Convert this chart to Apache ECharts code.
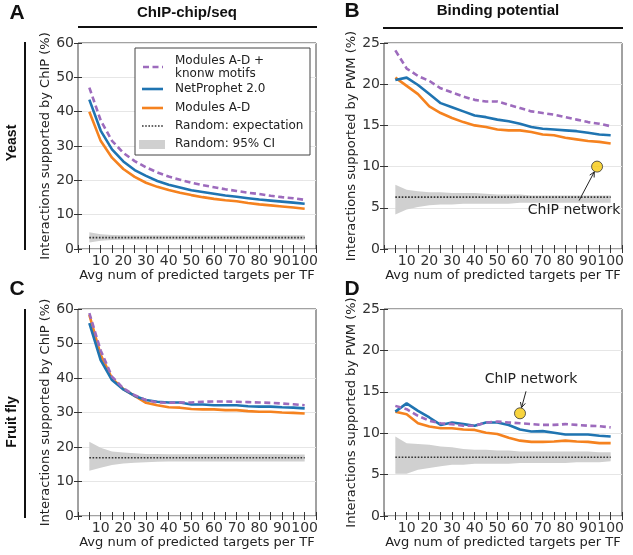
<!DOCTYPE html>
<html><head><meta charset="utf-8">
<script src="https://cdn.jsdelivr.net/npm/echarts@6/dist/echarts.min.js"></script>
<style>html,body{margin:0;padding:0;background:#fff}#c{width:633px;height:555px}</style>
</head><body><div id="c"></div>
<script>
// ---------- data ----------
const xs = [5,10,15,20,25,30,35,40,45,50,55,60,65,70,75,80,85,90,95,100];
const xTickLabels = [10,20,30,40,50,60,70,80,90,100];

// Panel A: Yeast, ChIP-chip/seq
const A_motifs     = [47,37.5,31.5,28,25.6,23.8,22.3,21.1,20.2,19.3,18.6,18,17.4,16.9,16.4,16,15.5,15.1,14.8,14.3];
const A_netprophet = [43.5,34.5,29,25.5,23,21.3,19.8,18.7,17.9,17.1,16.6,16.1,15.6,15.2,14.8,14.4,14.1,13.8,13.5,13.2];
const A_modules    = [40,31.5,26.6,23.3,21,19.3,18.1,17.2,16.4,15.7,15.1,14.6,14.2,13.9,13.4,13,12.7,12.4,12.1,11.7];
const A_random     = [3.3,3.3,3.3,3.3,3.3,3.3,3.3,3.3,3.3,3.3,3.3,3.3,3.3,3.3,3.3,3.3,3.3,3.3,3.3,3.3];
const A_ciLow      = [1.9,2.4,2.6,2.7,2.7,2.7,2.7,2.7,2.7,2.7,2.7,2.7,2.7,2.7,2.7,2.7,2.7,2.7,2.7,2.7];
const A_ciHigh     = [4.9,4.3,4.1,4.0,4.0,4.0,4.0,4.0,4.0,4.0,4.0,4.0,4.0,4.0,4.0,4.0,4.0,4.0,4.0,4.0];

// Panel B: Yeast, Binding potential
const B_motifs     = [24.1,21.9,21,20.4,19.5,19,18.5,18.1,17.9,17.9,17.5,17.1,16.7,16.5,16.3,16,15.7,15.4,15.2,14.9];
const B_netprophet = [20.5,20.8,19.9,18.8,17.7,17.2,16.7,16.2,16,15.7,15.5,15.2,14.8,14.6,14.5,14.4,14.3,14.1,13.9,13.8];
const B_modules    = [20.8,19.8,18.8,17.3,16.5,15.9,15.4,15,14.8,14.5,14.4,14.4,14.2,13.9,13.8,13.5,13.3,13.1,13,12.8];
const B_random     = [6.3,6.3,6.3,6.3,6.3,6.3,6.3,6.3,6.3,6.3,6.3,6.3,6.3,6.3,6.3,6.3,6.3,6.3,6.3,6.3];
const B_ciLow      = [4.2,4.8,5.1,5.3,5.4,5.4,5.5,5.5,5.5,5.5,5.5,5.6,5.6,5.6,5.6,5.6,5.6,5.6,5.6,5.6];
const B_ciHigh     = [7.8,7.2,7.0,6.9,6.9,6.8,6.8,6.8,6.7,6.6,6.6,6.6,6.5,6.5,6.5,6.5,6.5,6.5,6.5,6.5];
const B_chip       = [94, 10];

// Panel C: Fruit fly, ChIP-chip/seq
const C_motifs     = [58.8,48,40.4,37,35,33.6,32.9,32.8,32.9,32.9,33.1,33.2,33.2,33.1,33.0,32.9,32.8,32.6,32.4,32.1];
const C_netprophet = [55.9,45.2,39.4,36.7,34.8,33.6,33.1,32.9,32.9,32.3,32.3,32.1,32.1,32.1,31.8,31.7,31.7,31.5,31.4,31.2];
const C_modules    = [58.3,46.7,39.9,36.8,34.8,32.8,32.1,31.5,31.4,31.0,30.9,30.9,30.7,30.7,30.4,30.2,30.2,30.0,29.9,29.7];
const C_random     = [16.9,16.9,16.9,16.9,16.9,16.9,16.9,16.9,16.9,16.9,16.9,16.9,16.9,16.9,16.9,16.9,16.9,16.9,16.9,16.9];
const C_ciLow      = [13.1,14.0,14.8,15.2,15.4,15.6,15.7,15.8,15.8,15.8,15.8,15.8,15.8,15.8,15.8,15.8,15.8,15.8,15.8,15.8];
const C_ciHigh     = [21.5,19.8,18.7,18.4,18.2,18.0,18.0,17.9,17.9,17.9,17.9,17.9,17.9,17.9,17.9,17.9,17.9,17.9,17.8,17.8];

// Panel D: Fruit fly, Binding potential
const D_motifs     = [13.3,12.9,12.1,11.5,11.2,11.1,10.9,10.9,11.3,11.4,11.3,11.2,11.1,11.0,11.0,11.1,11.0,10.9,10.85,10.7];
const D_netprophet = [12.6,13.6,12.7,11.9,11.0,11.3,11.1,10.9,11.3,11.3,11.0,10.45,10.2,10.25,10.05,9.85,9.85,9.85,9.7,9.6];
const D_modules    = [12.6,12.3,11.2,10.8,10.6,10.6,10.45,10.4,10.05,9.9,9.45,9.1,8.95,8.95,9.0,9.1,9.0,8.95,8.8,8.8];
const D_random     = [7.1,7.1,7.1,7.1,7.1,7.1,7.1,7.1,7.1,7.1,7.1,7.1,7.1,7.1,7.1,7.1,7.1,7.1,7.1,7.1];
const D_ciLow      = [5.1,5.1,5.6,5.8,6.0,6.2,6.2,6.3,6.3,6.3,6.3,6.4,6.4,6.4,6.4,6.4,6.5,6.5,6.5,6.6];
const D_ciHigh     = [9.6,8.8,8.7,8.6,8.4,8.3,8.1,8.0,8.0,7.9,7.9,7.8,7.8,7.8,7.8,7.8,7.8,7.8,7.7,7.7];
const D_chip       = [60, 12.4];

const seriesNames = ['Modules A-D +\nknonw motifs','NetProphet 2.0','Modules A-D','Random: expectation','Random: 95% CI'];
const columnTitles = ['ChIP-chip/seq','Binding potential'];
const rowTitles = ['Yeast','Fruit fly'];
const panelLetters = ['A','B','C','D'];
const xName = 'Avg num of predicted targets per TF';
const yNames = ['Interactions supported by ChIP (%)','Interactions supported by PWM (%)'];

// ---------- styling ----------
const COL_PURPLE = '#9d6bbd', COL_BLUE = '#1f74b1', COL_ORANGE = '#f5821f', COL_CI = '#d0d0d0', COL_DOT = '#333';
const FONT = 'DejaVu Sans';
const grids = [
  {left:78, top:43, width:238, height:206},
  {left:384, top:43, width:238, height:206},
  {left:78, top:309, width:238, height:207},
  {left:384, top:309, width:238, height:207}
];
const yMax = [60,25,60,25], yInt = [10,5,10,5];

const chart = echarts.init(document.getElementById('c'), null, {renderer:'canvas'});
const xAxes = [], yAxes = [], series = [];
const pair = arr => xs.map((x,k)=>[x,arr[k]]);

function addPanel(i, motifs, np, mods, rand, lo, hi, chip) {
  const tickBase = {show:true, inside:true, length:4, lineStyle:{color:'#333', width:1}};
  xAxes.push({gridIndex:i, type:'value', min:0, max:105, interval:5, position:'bottom',
    axisLine:{show:false}, axisTick:tickBase, splitLine:{show:false},
    axisLabel:{fontFamily:FONT, fontSize:14, color:'#333', margin:5,
      formatter: v => xTickLabels.indexOf(v) >= 0 ? String(v) : ''},
    name:xName, nameLocation:'middle', nameGap:20,
    nameTextStyle:{fontFamily:FONT, fontSize:13, color:'#222'}});
  xAxes.push({gridIndex:i, type:'value', min:0, max:105, interval:5, position:'top',
    axisLine:{show:false}, axisTick:tickBase, splitLine:{show:false}, axisLabel:{show:false}});
  yAxes.push({gridIndex:i, type:'value', min:0, max:yMax[i], interval:yInt[i], position:'left',
    axisLine:{show:false}, axisTick:tickBase,
    splitLine:{show:true, lineStyle:{color:'#e6e6e6', width:1}},
    axisLabel:{fontFamily:FONT, fontSize:14, color:'#333', margin:4},
    name:yNames[i%2], nameLocation:'middle', nameGap:22,
    nameTextStyle:{fontFamily:FONT, fontSize:13, color:'#222'}});
  yAxes.push({gridIndex:i, type:'value', min:0, max:yMax[i], interval:yInt[i], position:'right',
    axisLine:{show:false}, axisTick:tickBase, splitLine:{show:false}, axisLabel:{show:false}});
  const base = {xAxisIndex:2*i, yAxisIndex:2*i, silent:true, animation:false};
  // 95% CI band: polygon through the lower and upper bounds, via the axes' scales
  series.push(Object.assign({}, base, {type:'custom', name:seriesNames[4],
    data: xs.map((x,k)=>[x, lo[k], hi[k]]), z:1,
    renderItem: function (params, api) {
      if (params.dataIndex !== 0) return null;
      const upper = xs.map((x,k)=>api.coord([x, hi[k]]));
      const lower = xs.map((x,k)=>api.coord([x, lo[k]])).reverse();
      return {type:'polygon', shape:{points:upper.concat(lower)}, style:{fill:COL_CI}};
    }}));
  const lbase = Object.assign({type:'line', symbol:'none'}, base);
  series.push(Object.assign({}, lbase, {name:seriesNames[3], data:pair(rand),
    lineStyle:{color:COL_DOT, width:1.6, type:[1.6,1.6]}, z:2}));
  series.push(Object.assign({}, lbase, {name:seriesNames[2], data:pair(mods),
    lineStyle:{color:COL_ORANGE, width:2.6}, z:3}));
  series.push(Object.assign({}, lbase, {name:seriesNames[1], data:pair(np),
    lineStyle:{color:COL_BLUE, width:2.6}, z:4}));
  series.push(Object.assign({}, lbase, {name:seriesNames[0], data:pair(motifs),
    lineStyle:{color:COL_PURPLE, width:2.6, type:[6,3.5]}, z:5}));
  if (chip) {
    series.push(Object.assign({}, base, {type:'scatter', data:[chip], symbolSize:11,
      itemStyle:{color:'#f6c90e', borderColor:'#333', borderWidth:1}, z:6}));
  }
}
addPanel(0, A_motifs, A_netprophet, A_modules, A_random, A_ciLow, A_ciHigh, null);
addPanel(1, B_motifs, B_netprophet, B_modules, B_random, B_ciLow, B_ciHigh, B_chip);
addPanel(2, C_motifs, C_netprophet, C_modules, C_random, C_ciLow, C_ciHigh, null);
addPanel(3, D_motifs, D_netprophet, D_modules, D_random, D_ciLow, D_ciHigh, D_chip);

chart.setOption({
  animation:false,
  backgroundColor:'#fff',
  grid: grids.map(g => Object.assign({show:true, borderColor:'#444', borderWidth:1, backgroundColor:'transparent'}, g)),
  xAxis:xAxes, yAxis:yAxes, series:series
});

// ---------- decorations (titles, legend, annotations) ----------
const gfx = [];
const bold = (txt, x, y, size, extra) => Object.assign({type:'text', x:x, y:y,
  style:{text:txt, font:'bold '+size+'px "Liberation Sans", Arial, sans-serif', fill:'#111', align:'center', verticalAlign:'middle'}}, extra||{});
// panel letters
gfx.push(bold(panelLetters[0], 17, 13, 21));
gfx.push(bold(panelLetters[1], 352, 11, 21));
gfx.push(bold(panelLetters[2], 17, 289, 21));
gfx.push(bold(panelLetters[3], 352, 289, 21));
// column titles + rules
gfx.push(bold(columnTitles[0], 187, 13, 15));
gfx.push(bold(columnTitles[1], 498, 11, 15));
gfx.push({type:'line', shape:{x1:78, y1:27, x2:317, y2:27}, style:{stroke:'#111', lineWidth:2}});
gfx.push({type:'line', shape:{x1:383, y1:28, x2:623, y2:28}, style:{stroke:'#111', lineWidth:2}});
// row titles + rules
gfx.push(bold(rowTitles[0], 12, 143, 14, {rotation:Math.PI/2}));
gfx.push(bold(rowTitles[1], 12, 422, 14, {rotation:Math.PI/2}));
gfx.push({type:'line', shape:{x1:25, y1:42, x2:25, y2:250}, style:{stroke:'#111', lineWidth:2}});
gfx.push({type:'line', shape:{x1:25, y1:309, x2:25, y2:518}, style:{stroke:'#111', lineWidth:2}});

// legend (panel A)
const lx = 135, ly = 48;
const legendFont = '12px "DejaVu Sans", sans-serif';
const legChildren = [
  {type:'rect', shape:{x:0, y:0, width:175, height:107}, style:{fill:'#fff', stroke:'#444', lineWidth:1}},
  {type:'line', shape:{x1:8, y1:19, x2:28, y2:19}, style:{stroke:COL_PURPLE, lineWidth:2.6, lineDash:[6,3.5]}},
  {type:'text', x:40, y:19, style:{text:seriesNames[0], font:legendFont, fill:'#222', verticalAlign:'middle', lineHeight:13}},
  {type:'line', shape:{x1:7, y1:41, x2:28, y2:41}, style:{stroke:COL_BLUE, lineWidth:2.6}},
  {type:'text', x:40, y:41, style:{text:seriesNames[1], font:legendFont, fill:'#222', verticalAlign:'middle'}},
  {type:'line', shape:{x1:7, y1:60, x2:28, y2:60}, style:{stroke:COL_ORANGE, lineWidth:2.6}},
  {type:'text', x:40, y:60, style:{text:seriesNames[2], font:legendFont, fill:'#222', verticalAlign:'middle'}},
  {type:'line', shape:{x1:7, y1:78, x2:28, y2:78}, style:{stroke:COL_DOT, lineWidth:1.6, lineDash:[1.6,1.6]}},
  {type:'text', x:40, y:78, style:{text:seriesNames[3], font:legendFont, fill:'#222', verticalAlign:'middle'}},
  {type:'rect', shape:{x:4, y:92, width:26, height:9}, style:{fill:COL_CI}},
  {type:'text', x:40, y:96, style:{text:seriesNames[4], font:legendFont, fill:'#222', verticalAlign:'middle'}}
];
legChildren.forEach(c => { c.z = 100; });
gfx.push({type:'group', x:lx, y:ly, children:legChildren, z:100});

// annotations: "ChIP network" with arrows to the points
function annotate(gridIdx, pt, tdx, tdy, tailDx, tailDy) {
  const p = chart.convertToPixel({xAxisIndex:2*gridIdx, yAxisIndex:2*gridIdx}, pt);
  gfx.push({type:'text', x:p[0]+tdx, y:p[1]+tdy, z:50,
    style:{text:'ChIP network', font:'14px "DejaVu Sans", sans-serif', fill:'#222', align:'center', verticalAlign:'middle'}});
  const tx = p[0]+tailDx, ty = p[1]+tailDy;
  const dx = p[0]-tx, dy = p[1]-ty, L = Math.hypot(dx,dy);
  const ux = dx/L, uy = dy/L;
  const hx = p[0]-ux*6, hy = p[1]-uy*6; // stop at the circle edge
  const ah = 5, aw = 2.5;
  gfx.push({type:'line', z:50, shape:{x1:tx, y1:ty, x2:hx, y2:hy}, style:{stroke:'#222', lineWidth:1}});
  gfx.push({type:'polyline', z:50, shape:{points:[[hx-ux*ah-uy*aw, hy-uy*ah+ux*aw],[hx,hy],[hx-ux*ah+uy*aw, hy-uy*ah-ux*aw]]},
    style:{stroke:'#222', lineWidth:1, fill:null}});
}
annotate(1, B_chip, -23, 44, -18, 34);
annotate(3, D_chip, 11, -34, 6, -22);

chart.setOption({graphic:gfx});
</script></body></html>
